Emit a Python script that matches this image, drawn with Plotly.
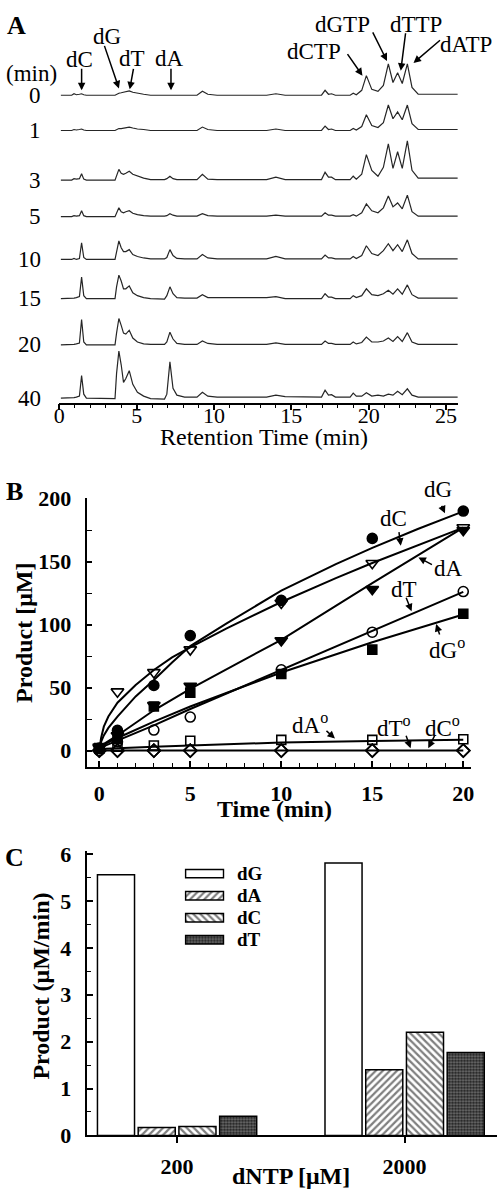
import plotly.graph_objects as go

W, H = 500, 1200
FONT = "Liberation Serif"

# ---------------- Panel A: chromatograms ----------------
rt_grid = [0.1, 0.8, 0.95, 1.1, 1.3, 1.44, 1.58, 1.75,
           3.6, 3.7, 3.85, 4.0, 4.15, 4.3, 4.52, 4.75, 5.05, 5.45, 5.9,
           6.8, 6.95, 7.15, 7.35, 7.6, 8.1,
           8.9, 9.25, 9.6, 10.2, 13.4, 14.0, 14.6,
           16.95, 17.18, 17.4, 17.6, 17.85, 18.8, 19.0, 19.2,
           19.55, 19.85, 20.2, 20.6, 20.95, 21.27, 21.57, 21.87, 22.17, 22.5, 22.8, 23.2, 25.75]

run_labels = ["0", "1", "3", "5", "10", "15", "20", "40"]

sig_0 = [0, 0, 1.5, 0.5, 1, 1.5, 0.5, 0,
         0, 1, 2, 2.5, 3, 3.5, 4.5, 3, 2, 1, 0,
         0, 0, 0.5, 0.5, 0, 0,
         0, 4, 1, 0, 0, 1.5, 0,
         0, 5, 1, 1.5, 0, 0, 2, 0.5,
         5, 20, 6, 4, 10, 32, 13, 23, 12, 32, 8, 1, 1]
sig_1 = [0, 0, 1, 0.5, 1, 1.5, 0.5, 0,
         0, 1, 2, 2, 2.5, 3, 3.5, 2.5, 1.5, 1, 0,
         0, 0, 0.5, 0.5, 0, 0,
         0, 3.5, 1, 0, 0, 1.5, 0,
         0, 4.5, 1, 1.5, 0, 0, 2, 0.5,
         4, 16, 5, 3, 8, 26, 12, 19, 11, 26, 7, 1, 1]
sig_3 = [0, 0, 1.5, 1, 1.5, 6.5, 1, 0,
         0, 5, 11, 7, 6, 7, 9, 6, 4, 2, 0.5,
         0.5, 1.5, 4, 1.5, 0.5, 0.5,
         0.5, 6, 1, 0.5, 0.5, 3, 0.5,
         0.5, 8, 3, 3, 0.5, 0.5, 4, 1,
         6, 26, 10, 4, 13, 37, 12, 29, 12, 40, 10, 2, 2]
sig_5 = [0, 0, 1, 0.5, 1, 6, 1, 0,
         0, 4, 9, 5, 4, 5, 6, 3.5, 2, 1, 0.5,
         0.5, 1, 3, 1.5, 0.5, 0.5,
         0.5, 3, 1, 0.5, 0.5, 1.5, 0.5,
         0.5, 4, 1.5, 1.5, 0.5, 0.5, 2, 0.5,
         4, 13, 6, 4, 9, 21, 10, 14, 8, 22, 5, 0.5, 0.5]
sig_10 = [0, 0, 1, 0, 1, 17, 2, 0,
          0, 7, 19, 12, 8, 8, 10, 5, 3, 1.5, 0.5,
          0.5, 2, 10, 4, 1, 0.5,
          0.5, 5, 1.5, 0.5, 0.5, 3, 0.5,
          0.5, 4.5, 1.5, 1.5, 0.5, 0.5, 3, 1,
          4, 14, 6, 4, 9, 16, 9, 15, 8, 20, 6, 0.5, 0.5]
sig_15 = [0, 0, 0.5, 1, 2, 22, 3, 0,
          0, 12, 24, 18, 10, 10, 13, 6, 3, 1, 0,
          -0.5, 3, 12, 5, 1, 0.5,
          0.5, 4, 1, 1, 1, 2, 0,
          0, 5, 1.5, 1.5, 0, 0, 3, 1,
          3, 10, 4, 3, 5, 8.5, 4.5, 10, 4.5, 14, 4, 0.5, 0.5]
sig_20 = [0, 0, 0.5, 1, 2, 26, 3, 0,
          0, 12, 27, 20, 12, 11, 15, 7, 3, 1, 0.5,
          0.5, 3, 13, 6, 1.5, 0.5,
          0.5, 4, 1.5, 0.5, 0.5, 2, 0.5,
          0.5, 4, 1.5, 1.5, 0.5, 0.5, 3, 1,
          2.5, 8, 3, 3, 4, 7, 3.5, 8.5, 3.5, 12.5, 3, 0.5, 0.5]
sig_40 = [0, 0, 0.5, 1, 2, 23, 4, 0,
          -0.5, 25, 48, 34, 16, 20, 28, 14, 6, 2, -0.5,
          -1, 4, 37, 10, 3, 1,
          1, 6, 2, 1, 1, 3, 1.5,
          1, 8, 3, 3.5, 1, 1, 5, 2,
          2, 5.5, 2, 3, 2, 4, 3, 7, 3.5, 9.5, 3, 1, 1]
signals = [sig_0, sig_1, sig_3, sig_5, sig_10, sig_15, sig_20, sig_40]
# vertical stacking of the chromatograms (layout, in plot units)
stack_offsets = [314, 278, 227.3, 190, 146.3, 106.3, 59, 4.7]

# ---------------- Panel B: product vs time ----------------
times = [0, 1, 3, 5, 10, 15, 20]
dG = [2, 16, 51.7, 91.3, 119.3, 168.5, 190.2]
dC = [3, 46.8, 62.1, 80.2, 117.2, 148.8, 177.2]
dA = [2, 12, 36, 51.2, 87.4, 128.1, 175]
dT = [0, 7, 16.3, 26.6, 64.2, 94, 126.3]
dG_o = [2, 9, 35, 46, 60.8, 80.2, 108.7]
dA_o = [1.5, 3, 4, 7.8, 8.5, 8.5, 9]
dT_o = [0, 0, 0, 0, 0, 0, 0]
dC_o = [0, 0, 0, 0, 0, 0, 0]

curve_t = [0, 0.1, 0.25, 0.5, 1, 2, 3, 4, 5, 7, 10, 13, 15, 17.5, 20]
dG_fit = [0, 7, 12, 18, 27, 43, 56, 70, 83, 101, 127, 148, 161, 176, 190]
dC_fit = [0, 10, 19, 27, 38, 52, 64, 74, 82, 97, 118, 137, 149, 163, 177]
line_t = [0, 1, 3, 5, 10, 15, 20]
dA_fit = [3, 12, 32, 49, 88, 133, 177]
dT_fit = [2, 8, 20, 33, 64, 95, 126]
dG_o_fit = [3, 10, 23, 35, 62, 86, 108]
dA_o_fit = [1.2, 2, 3, 4, 6.4, 7.5, 8.5]
zero_fit = [0, 0, 0, 0, 0, 0, 0]

# ---------------- Panel C: rates ----------------
conc = ["200", "2000"]
bar_names = ["dG", "dA", "dC", "dT"]
rate_dG = [5.56, 5.81]
rate_dA = [0.17, 1.40]
rate_dC = [0.19, 2.20]
rate_dT = [0.41, 1.77]
rates = [rate_dG, rate_dA, rate_dC, rate_dT]


def PX(x):
    return x / W


def PY(y):
    return 1 - y / H


def font(size, bold=False):
    return dict(family=FONT, size=size, color="black", weight="bold" if bold else "normal")


fig = go.Figure()

# --- A traces
for lab, sig, off in zip(run_labels, signals, stack_offsets):
    fig.add_trace(go.Scatter(x=rt_grid, y=[off + s for s in sig], mode="lines",
                             line=dict(color="#262626", width=1.2),
                             xaxis="x", yaxis="y", showlegend=False, hoverinfo="skip"))

# --- B fit curves
for xs, ys in [(curve_t, dG_fit), (curve_t, dC_fit), (line_t, dA_fit), (line_t, dT_fit),
               (line_t, dG_o_fit), (line_t, dA_o_fit), (line_t, zero_fit)]:
    fig.add_trace(go.Scatter(x=xs, y=ys, mode="lines", line=dict(color="black", width=2),
                             xaxis="x2", yaxis="y2", showlegend=False))

# --- B markers
marker_specs = [
    (dG, "circle", 10),
    (dC, "triangle-down-open", 11),
    (dA, "triangle-down", 11),
    (dT, "circle-open", 10),
    (dG_o, "square", 9),
    (dA_o, "square-open", 9),
    (dT_o, "diamond-open", 10),
    (dC_o, "diamond-open", 10),
]
for ys, sym, sz in marker_specs:
    fig.add_trace(go.Scatter(x=times, y=ys, mode="markers",
                             marker=dict(symbol=sym, size=sz, color="black",
                                         line=dict(color="black", width=1.6)),
                             xaxis="x2", yaxis="y2", showlegend=False))

# --- C bars
bar_styles = {
    "dG": dict(shape="", bgcolor="white", fgcolor="white", size=5, solidity=0.4),
    "dA": dict(shape="/", bgcolor="white", fgcolor="black", size=5, solidity=0.45),
    "dC": dict(shape="\\", bgcolor="white", fgcolor="black", size=5, solidity=0.45),
    "dT": dict(shape=".", bgcolor="#1c1c1c", fgcolor="#d8d8d8", size=3, solidity=0.45),
}
for name, vals in zip(bar_names, rates):
    fig.add_trace(go.Bar(x=conc, y=vals, name=name,
                         marker=dict(color="white", line=dict(color="black", width=1.5),
                                     pattern=bar_styles[name]),
                         xaxis="x3", yaxis="y3", showlegend=False))

# --- C legend swatches (drawn as small horizontal bars)
fig.add_trace(go.Bar(x=[1, 1, 1, 1], y=bar_names, orientation="h", width=0.38,
                     marker=dict(color="white", line=dict(color="black", width=1.5),
                                 pattern=dict(shape=[bar_styles[n]["shape"] for n in bar_names],
                                              bgcolor=[bar_styles[n]["bgcolor"] for n in bar_names],
                                              fgcolor=[bar_styles[n]["fgcolor"] for n in bar_names],
                                              size=[bar_styles[n]["size"] for n in bar_names],
                                              solidity=[bar_styles[n]["solidity"] for n in bar_names])),
                     xaxis="x4", yaxis="y4", showlegend=False))

axis_common = dict(showgrid=False, zeroline=False, showline=True, linecolor="black",
                   linewidth=1.6, tickcolor="black", tickwidth=1.5, fixedrange=True)

annotations = []


def text(x, y, t, size, bold=False, **kw):
    d = dict(xref="paper", yref="paper", x=PX(x), y=PY(y), text=t, showarrow=False,
             font=font(size, bold), xanchor="center", yanchor="middle")
    d.update(kw)
    annotations.append(d)


def arrow(x0, y0, x1, y1):
    annotations.append(dict(xref="paper", yref="paper", x=PX(x1), y=PY(y1),
                            ax=x0 - x1, ay=y0 - y1, axref="pixel", ayref="pixel",
                            text="", showarrow=True, arrowhead=2, arrowsize=1,
                            arrowwidth=1.5, arrowcolor="black", standoff=0, startstandoff=0))


# Panel A annotations
text(11, 14, "A", 26, True)
text(26, 63, "(min)", 23)
for lab, off in zip(run_labels, stack_offsets):
    annotations.append(dict(xref="paper", yref="y", x=PX(38), y=off, text=lab, showarrow=False,
                            font=font(23), xanchor="right", yanchor="middle"))
for t, tx, ty, a in [("dC", 75, 48, (77, 57, 77, 80)),
                     ("dG", 103, 25, (100, 34, 115, 78)),
                     ("dT", 128, 47, (130, 57, 126, 79)),
                     ("dA", 167, 47, (168, 57, 168, 80)),
                     ("dCTP", 314, 40, (347, 42, 363, 65)),
                     ("dGTP", 343, 13, (373, 20, 388, 50)),
                     ("dTTP", 418, 13, (407, 21, 402, 60)),
                     ("dATP", 468, 33, (443, 28, 415, 52))]:
    text(tx, ty, t, 23)
    arrow(*a)
text(263, 434, "Retention Time (min)", 24)

# Panel B annotations
text(9, 490, "B", 26, True)
text(273, 814, "Time (min)", 24, True)
text(18.5, 634, "Product [μM]", 24, True, textangle=-90)
for t, tx, ty, a in [("dG", 440, 488, (443, 503, 447, 512)),
                     ("dC", 395, 517, (400, 530, 402, 545)),
                     ("dA", 451, 568, (435, 565, 420, 557)),
                     ("dT", 405, 590, (407, 597, 413, 612)),
                     ("dG<sup>o</sup>", 449, 650, (442, 637, 438, 625)),
                     ("dA<sup>o</sup>", 310, 727, (325, 733, 335, 742)),
                     ("dT<sup>o</sup>", 395, 730, (407, 738, 412, 752)),
                     ("dC<sup>o</sup>", 445, 730, (437, 738, 430, 752))]:
    text(tx, ty, t, 23)
    arrow(*a)

# Panel C annotations
text(9, 863, "C", 26, True)
text(36, 995, "Product (μM/min)", 24, True, textangle=-90)
text(290, 1189, "dNTP [μM]", 24, True)
for i, n in enumerate(bar_names):
    text(233, 880 + 22.5 * i, n, 19, True, xanchor="left")

fig.update_layout(
    width=W, height=H, autosize=False,
    margin=dict(l=0, r=0, t=0, b=0),
    paper_bgcolor="white", plot_bgcolor="rgba(0,0,0,0)",
    showlegend=False,
    barmode="group", bargap=0.284, bargroupgap=0.09,
    font=dict(family=FONT, color="black"),
    xaxis=dict(domain=[PX(54.3), PX(460.7)], range=[0, 25.8], anchor="y",
               ticks="outside", ticklen=6, dtick=5, tick0=0,
               minor=dict(dtick=1, ticks="outside", ticklen=3.5, tickwidth=1.2, tickcolor="black"),
               tickfont=font(22), ticklabelstandoff=-14, **axis_common),
    yaxis=dict(domain=[PY(399), PY(30)], range=[0, 369], anchor="x", visible=False, fixedrange=True),
    xaxis2=dict(domain=[PX(82), PX(474)], range=[-0.7, 20.45], anchor="y2",
                ticks="inside", ticklen=6, dtick=5, tick0=0,
                minor=dict(dtick=1, ticks="inside", ticklen=4, tickwidth=1.2, tickcolor="black"),
                tickfont=font(22, True), ticklabelstandoff=6, **axis_common),
    yaxis2=dict(domain=[PY(771), PY(496.7)], range=[-13, 200.3], anchor="x2",
                ticks="inside", ticklen=6, dtick=50, tick0=0,
                minor=dict(dtick=25, ticks="inside", ticklen=6, tickwidth=1.2, tickcolor="black"),
                tickfont=font(22, True), ticklabelstandoff=9, **axis_common),
    xaxis3=dict(domain=[PX(82), 1.0], range=[-0.398, 1.406], anchor="y3",
                ticks="outside", ticklen=6, type="category",
                tickfont=font(22, True), ticklabelstandoff=4, **axis_common),
    yaxis3=dict(domain=[PY(1147.3), PY(856.7)], range=[0, 6.07], anchor="x3",
                ticks="inside", ticklen=7, dtick=1, tick0=0,
                minor=dict(dtick=0.5, ticks="inside", ticklen=5, tickwidth=1.2, tickcolor="black"),
                tickfont=font(22, True), ticklabelstandoff=9, **axis_common),
    xaxis4=dict(domain=[PX(181.7), PX(222.7)], range=[-0.03, 1.03], anchor="y4", visible=False,
                fixedrange=True),
    yaxis4=dict(domain=[PY(958.75), PY(868.75)], range=[3.5, -0.5], anchor="x4", visible=False,
                type="category", fixedrange=True),
    annotations=annotations,
)

fig.write_html("out.html", config={"displayModeBar": False},
               post_script="document.body.style.margin='0';")
